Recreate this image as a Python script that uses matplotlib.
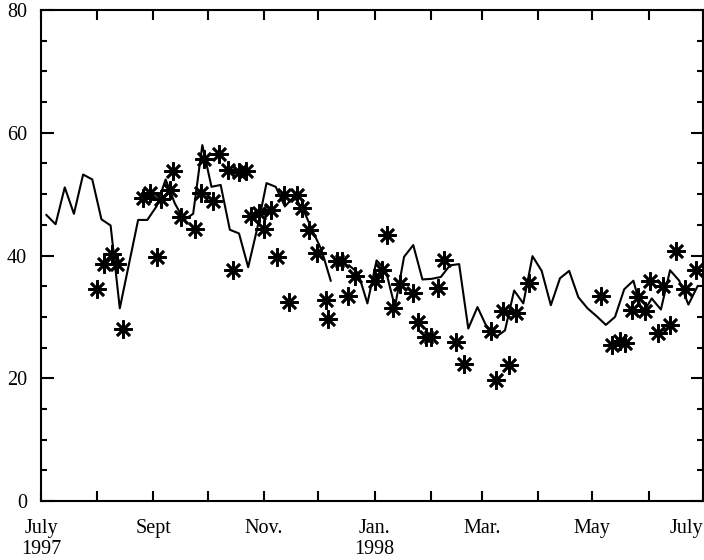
import matplotlib
matplotlib.use("Agg")
import matplotlib.pyplot as plt
import pandas as pd

plt.rcParams['font.family'] = ['Liberation Serif', 'DejaVu Serif']

# smoothed series, regular steps from early July 1997 to late June 1998 (NaN = gap)
line_vals = [46.6, 45.1, 51.1, 46.8, 53.2, 52.4, 45.9, 44.9, 31.4, 38.6,
             45.8, 45.8, 48.0, 52.4, 48.5, 45.8, 46.8, 58.0, 51.2, 51.5,
             44.2, 43.6, 38.1, 44.5, 51.8, 51.2, 48.0, 49.6, 47.5, 44.1,
             40.9, 35.9, None, 38.4, 37.1, 32.2, 39.2, 37.6, 31.6, 39.8,
             41.7, 36.1, 36.2, 36.5, 38.4, 38.6, 28.1, 31.6, 28.4, 26.7,
             27.8, 34.3, 32.2, 39.9, 37.5, 31.9, 36.3, 37.5, 33.2, 31.4,
             30.1, 28.7, 30.0, 34.5, 35.9, 30.5, 33.0, 31.2, 37.6, 35.9,
             32.0, 35.0]

# observations
star_dates = ['1997-08-01', '1997-08-05', '1997-08-09', '1997-08-12', '1997-08-15',
              '1997-08-26', '1997-08-30', '1997-09-03', '1997-09-05', '1997-09-10',
              '1997-09-12', '1997-09-16', '1997-09-24', '1997-09-27', '1997-09-29',
              '1997-10-04', '1997-10-07', '1997-10-12', '1997-10-15', '1997-10-18',
              '1997-10-22', '1997-10-25', '1997-10-29', '1997-11-01', '1997-11-05',
              '1997-11-08', '1997-11-12', '1997-11-15', '1997-11-19', '1997-11-22',
              '1997-11-26', '1997-11-30', '1997-12-05', '1997-12-06', '1997-12-11',
              '1997-12-14', '1997-12-17', '1997-12-21', '1998-01-01', '1998-01-05',
              '1998-01-08', '1998-01-11', '1998-01-15', '1998-01-22', '1998-01-25',
              '1998-01-29', '1998-02-01', '1998-02-05', '1998-02-08', '1998-02-15',
              '1998-02-19', '1998-03-06', '1998-03-09', '1998-03-13', '1998-03-16',
              '1998-03-20', '1998-03-27', '1998-05-06', '1998-05-12', '1998-05-16',
              '1998-05-19', '1998-05-23', '1998-05-26', '1998-05-30', '1998-06-02',
              '1998-06-06', '1998-06-09', '1998-06-13', '1998-06-16', '1998-06-21',
              '1998-06-27']
star_vals = [34.5, 38.7, 40.2, 38.6, 28.0, 49.4, 50.2, 39.7, 49.2, 50.7,
             53.7, 46.3, 44.4, 50.2, 55.7, 48.9, 56.5, 53.9, 37.7, 53.6,
             53.7, 46.5, 47.0, 44.4, 47.5, 39.7, 49.8, 32.4, 49.8, 47.8,
             44.1, 40.4, 32.8, 29.7, 39.1, 39.1, 33.4, 36.6, 35.8, 37.6,
             43.4, 31.4, 35.4, 33.9, 29.2, 26.8, 26.8, 34.7, 39.3, 25.9,
             22.3, 27.7, 19.7, 31.0, 22.1, 30.6, 35.6, 33.4, 25.5, 26.0,
             25.8, 31.2, 33.3, 31.0, 35.8, 27.3, 35.0, 28.6, 40.8, 34.6,
             37.7]

month_ticks = pd.date_range('1997-07-01', '1998-07-01', freq='MS')
month_labels = ['July\n1997', '', 'Sept', '', 'Nov.', '', 'Jan.\n1998', '',
                'Mar.', '', 'May', '', 'July']

line_dates = pd.date_range('1997-07-04', '1998-06-28', periods=len(line_vals))
line_y = [float('nan') if v is None else v for v in line_vals]

fig = plt.figure(figsize=(7.04, 5.6), dpi=100)
ax = fig.add_axes([0.0582, 0.1054, 0.9404, 0.8766])

ax.plot(line_dates, line_y, color='black', lw=1.5)
ax.plot(pd.to_datetime(star_dates), star_vals, ls='none', marker=(8, 2, 0),
        ms=13, mew=1.9, color='black')

ax.set_xlim(pd.Timestamp('1997-07-01'), pd.Timestamp('1998-07-01'))
ax.set_ylim(0, 80)
ax.set_xticks(month_ticks)
ax.set_xticklabels(month_labels, fontsize=14.5, linespacing=1.12)
ax.get_xticklabels()[-1].set_horizontalalignment('right')
ax.set_yticks([0, 20, 40, 60, 80])
ax.set_yticks(range(0, 81, 5), minor=True)
ax.tick_params(axis='y', labelsize=14.5)
ax.tick_params(axis='x', direction='in', length=7.5, width=1.5, top=True, pad=13)
ax.tick_params(axis='y', which='major', direction='in', length=9, width=1.5,
               right=True, pad=10)
ax.tick_params(axis='y', which='minor', direction='in', length=4.5, width=1.5,
               right=True)
for s in ax.spines.values():
    s.set_linewidth(1.5)

fig.savefig('out.png', dpi=100)
